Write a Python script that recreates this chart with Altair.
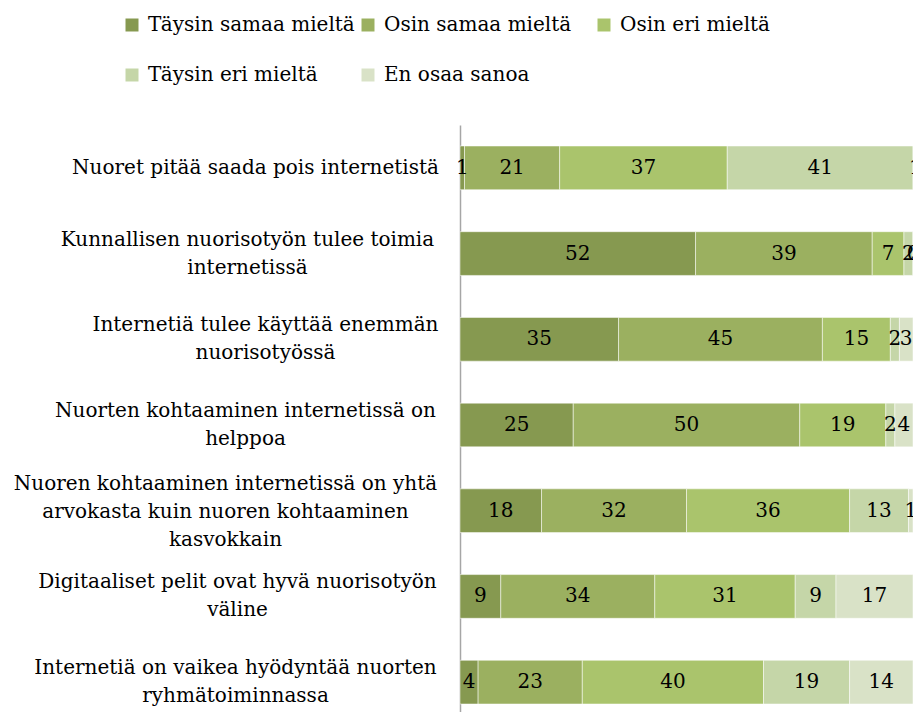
import json
import altair as alt
import pandas as pd

# ---- data ----
questions = [
    "Nuoret pitää saada pois internetistä",
    "Kunnallisen nuorisotyön tulee toimia\ninternetissä",
    "Internetiä tulee käyttää enemmän\nnuorisotyössä",
    "Nuorten kohtaaminen internetissä on\nhelppoa",
    "Nuoren kohtaaminen internetissä on yhtä\narvokasta kuin nuoren kohtaaminen\nkasvokkain",
    "Digitaaliset pelit ovat hyvä nuorisotyön\nväline",
    "Internetiä on vaikea hyödyntää nuorten\nryhmätoiminnassa",
]
responses = ["Täysin samaa mieltä", "Osin samaa mieltä", "Osin eri mieltä",
             "Täysin eri mieltä", "En osaa sanoa"]
taysin_samaa = [1, 52, 35, 25, 18, 9, 4]
osin_samaa = [21, 39, 45, 50, 32, 34, 23]
osin_eri = [37, 7, 15, 19, 36, 31, 40]
taysin_eri = [41, 2, 2, 2, 13, 9, 19]
en_osaa = [1, 0, 3, 4, 1, 17, 14]

colors = ["#869950", "#9BB060", "#AAC46C", "#C5D6A8", "#D9E2C7"]

series = [taysin_samaa, osin_samaa, osin_eri, taysin_eri, en_osaa]
rows = []
for qi, q in enumerate(questions):
    for ri, r in enumerate(responses):
        rows.append({"question": q, "response": r, "order": ri, "value": series[ri][qi]})
df = pd.DataFrame(rows)

# ---- styling ----
FONT = "DejaVu Serif"
LINE_H = 28
# horizontal centre of each multi-line label block, as padding from the axis line
label_pad = [205, 213, 195, 215, 235, 223, 225]
pad_condition = {
    "condition": [
        {"test": "datum.value === " + json.dumps(q, ensure_ascii=False), "value": p}
        for q, p in zip(questions, label_pad)
    ],
    "value": 210,
}
# vertically centre multi-line label blocks on the bar
offset_condition = {
    "condition": [
        {"test": "split(datum.value, '\\n').length === 3", "value": -LINE_H + 1},
        {"test": "split(datum.value, '\\n').length === 2", "value": -LINE_H / 2},
    ],
    "value": 0,
}

base = alt.Chart(df).transform_stack(
    stack="value",
    groupby=["question"],
    sort=[alt.SortField(field="order", order="ascending")],
    as_=["x0", "x1"],
).transform_calculate(mid="(datum.x0 + datum.x1) / 2")

y_enc = alt.Y(
    "question:N",
    sort=questions,
    scale=alt.Scale(range=[0, 600], paddingInner=0.49, paddingOuter=0.245),
    axis=alt.Axis(
        title=None,
        ticks=False,
        tickSize=0,
        grid=False,
        domainColor="#A6A6A6",
        domainWidth=1.5,
        labelFont=FONT,
        labelFontSize=20,
        labelColor="black",
        labelAlign="center",
        labelBaseline="middle",
        labelLineHeight=LINE_H,
        labelLimit=600,
        labelPadding=pad_condition,
        labelOffset=offset_condition,
        labelExpr="split(datum.label, '\\n')",
    ),
)

bars = base.mark_bar(clip=True, stroke="white", strokeWidth=1, strokeOpacity=0.5).encode(
    x=alt.X("x0:Q", scale=alt.Scale(domain=[0, 100], nice=False), axis=None),
    x2="x1:Q",
    y=y_enc,
    color=alt.Color(
        "response:N",
        scale=alt.Scale(domain=responses, range=colors),
        legend=alt.Legend(
            title=None,
            orient="none",
            legendX=-338,
            legendY=-110,
            direction="horizontal",
            columns=3,
            gridAlign="all",
            columnPadding=3,
            rowPadding=30,
            symbolType="square",
            symbolSize=169,
            symbolStrokeWidth=0,
            labelFont=FONT,
            labelFontSize=20,
            labelColor="black",
            labelOffset=6,
            labelLimit=400,
            padding=0,
        ),
    ),
    order=alt.Order("order:Q"),
)

texts = base.mark_text(font=FONT, fontSize=20, color="black", baseline="middle",
                       align="center").encode(
    x=alt.X("mid:Q", scale=alt.Scale(domain=[0, 100], nice=False), axis=None),
    y=alt.Y("question:N", sort=questions),
    text="value:Q",
)

chart = alt.layer(bars, texts).properties(
    width=453,
    height=587,
    autosize=alt.AutoSizeParams(type="none"),
    padding={"left": 452, "top": 117, "right": 0, "bottom": 0},
).configure_view(stroke=None)

chart.save("out.html", embed_options={"renderer": "svg", "actions": False})
